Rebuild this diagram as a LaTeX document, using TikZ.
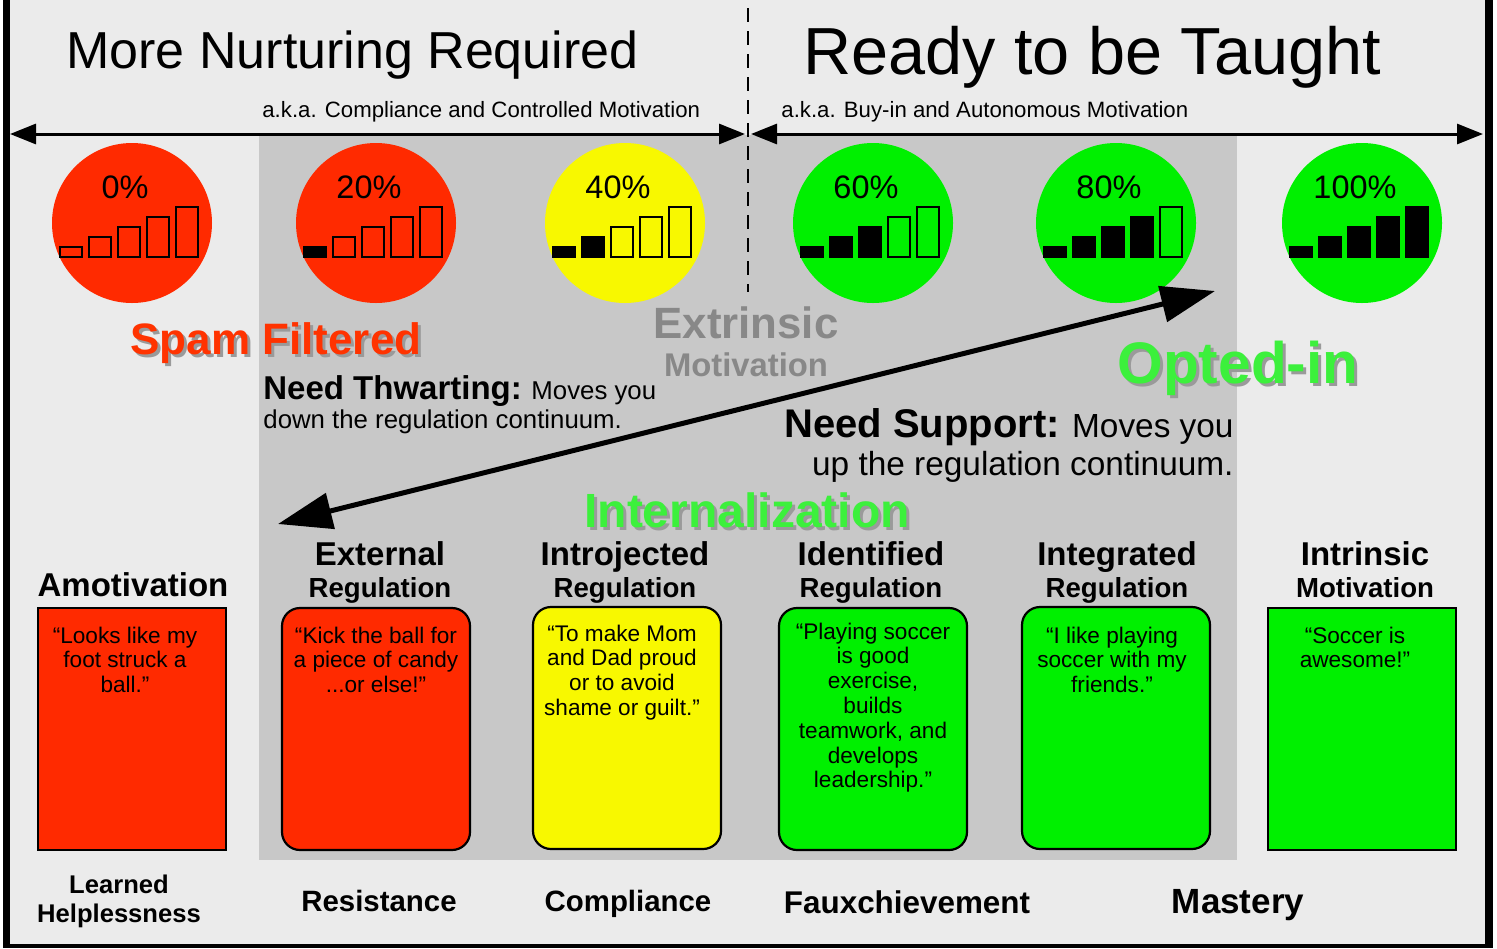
\documentclass[tikz,border=0pt]{standalone}
\usepackage{fontspec}
\setmainfont{Liberation Sans}
\usetikzlibrary{arrows.meta}

\definecolor{bglight}{HTML}{EBEBEB}
\definecolor{panel}{HTML}{C8C8C8}
\definecolor{lowred}{HTML}{FF2A00}
\definecolor{midyel}{HTML}{F8F800}
\definecolor{highgrn}{HTML}{00F000}
\definecolor{tagred}{HTML}{FF3300}
\definecolor{taggrn}{HTML}{3CF03C}
\definecolor{shade}{HTML}{9A9A9A}
\definecolor{extgray}{HTML}{888888}

\newcommand\shadowed[2]{\rlap{\hspace{1.5pt}\raisebox{-1.5pt}{\color{shade}#2}}{\color{#1}#2}}
\newcommand\subline{\fontsize{13.8}{16}\selectfont}

\begin{document}
\begin{tikzpicture}[x=0.5pt, y=-0.5pt,
    txt/.style={inner sep=0pt, anchor=base},
    meter/.style={circle, minimum size=80pt, inner sep=0pt},
    pct/.style={txt, font=\fontsize{16.25}{18}\selectfont},
    bar/.style={draw=black, line width=0.6pt},
    card/.style={draw, line width=1.1pt, minimum width=94pt, minimum height=121pt, inner sep=0pt},
    quote/.style={txt, align=center, font=\fontsize{11.3}{12.4}\selectfont},
    head/.style={txt, align=center, font=\bfseries\fontsize{16.5}{16}\selectfont},
    outcome/.style={txt, align=center, font=\bfseries\fontsize{14.7}{15}\selectfont},
    span/.style={line width=1.5pt, {Triangle[length=13pt,width=10pt]}-{Triangle[length=13pt,width=10pt]}},
    swing/.style={line width=2.5pt, {Triangle[length=27pt,width=18pt]}-{Triangle[length=27pt,width=18pt]}},
    divider/.style={line width=1.2pt, dash pattern=on 7pt off 4.5pt}]
\useasboundingbox (0,0) rectangle (1497,948);

% frame and panels
\fill[white] (0,0) rectangle (1497,948);
\fill[bglight] (10,0) rectangle (1485,944);
\fill[black] (3,0) rectangle (10,948);
\fill[black] (1485,0) rectangle (1493,948);
\fill[black] (3,944) rectangle (1493,948);
\fill[panel] (259,135) rectangle (1237,860);

\draw[divider] (748,8) -- (748,292);

% titles
\node[txt, anchor=base west, font=\fontsize{26}{30}\selectfont] (nurture) at (66,68) {More Nurturing Required};
\node[txt, anchor=base west, font=\fontsize{33.3}{36}\selectfont] (taught) at (803,74) {Ready to be Taught};
\node[txt, anchor=base west, font=\fontsize{11.1}{13}\selectfont] (akal) at (262,117) {a.k.a. Compliance and Controlled Motivation};
\node[txt, anchor=base west, font=\fontsize{11.1}{13}\selectfont] (akar) at (781,117) {a.k.a. Buy-in and Autonomous Motivation};

\coordinate (l1) at (10,134);
\coordinate (l2) at (745,134);
\coordinate (r1) at (751,134);
\coordinate (r2) at (1483,134);
\draw[span] (l1) -- (l2);
\draw[span] (r1) -- (r2);

% meters
\foreach \x/\p/\c/\n in {132/0/lowred/0, 376/20/lowred/1, 625/40/midyel/2,
                          873/60/highgrn/3, 1116/80/highgrn/4, 1362/100/highgrn/5} {
  \node[meter, fill=\c] (m\p) at (\x,223) {};
  \node[pct] (p\p) at (\x-7,198) {\p\%};
  \foreach \i in {0,...,4} {
    \ifnum\i<\n\relax \def\barfill{black}\else\def\barfill{\c}\fi
    \draw[bar, fill=\barfill] (\x-72+29*\i,257) rectangle (\x-50+29*\i,247-10*\i);
  }
}

% middle labels
\node[txt, font=\bfseries\fontsize{22}{24}\selectfont] (spam) at (276,354) {\shadowed{tagred}{Spam Filtered}};
\node[txt, text=extgray, font=\bfseries\fontsize{21.9}{24}\selectfont] (extr) at (746,338) {Extrinsic};
\node[txt, text=extgray, font=\bfseries\fontsize{16.4}{18}\selectfont] (extm) at (746,376) {Motivation};
\node[txt, font=\bfseries\fontsize{29.3}{32}\selectfont] (opted) at (1238,383) {\shadowed{taggrn}{Opted-in}};
\node[txt, anchor=base west, align=left, font=\fontsize{12.9}{14.5}\selectfont] (thwart) at (263,428)
  {{\bfseries\fontsize{16.5}{14.5}\selectfont Need Thwarting:} Moves you\\down the regulation continuum.};
\node[txt, anchor=base east, align=right, font=\fontsize{16.7}{19}\selectfont] (support) at (1234,475)
  {{\bfseries\fontsize{20}{19}\selectfont Need Support:} Moves you\\up the regulation continuum.};
\node[txt, font=\bfseries\fontsize{24}{26}\selectfont] (intern) at (747,527) {\shadowed{taggrn}{Internalization}};

\coordinate (lo) at (278,524);
\coordinate (hi) at (1215,291);
\draw[swing] (lo) -- (hi);

% regulation types
\node[head] (hamo) at (133,596) {Amotivation};
\node[head] (hext) at (380,597) {External\\\subline Regulation};
\node[head] (hint) at (625,597) {Introjected\\\subline Regulation};
\node[head] (hide) at (871,597) {Identified\\\subline Regulation};
\node[head] (hitg) at (1117,597) {Integrated\\\subline Regulation};
\node[head] (hins) at (1365,597) {Intrinsic\\\subline Motivation};

\node[card, fill=lowred] (camo) at (132,729) {};
\node[card, fill=lowred, rounded corners=9pt] (cext) at (376,729) {};
\node[card, fill=midyel, rounded corners=9pt] (cint) at (627,728) {};
\node[card, fill=highgrn, rounded corners=9pt] (cide) at (873,729) {};
\node[card, fill=highgrn, rounded corners=9pt] (citg) at (1116,728) {};
\node[card, fill=highgrn] (cins) at (1362,729) {};

\node[quote] (qamo) at (125,692.6) {“Looks like my\\foot struck a\\ball.”};
\node[quote] (qext) at (376,692.6) {“Kick the ball for\\a piece of candy\\...or else!”};
\node[quote] (qint) at (622,715.4) {“To make Mom\\and Dad proud\\or to avoid\\shame or guilt.”};
\node[quote] (qide) at (873,787.8) {“Playing soccer\\is good\\exercise,\\builds\\teamwork, and\\develops\\leadership.”};
\node[quote] (qitg) at (1112,692.6) {“I like playing\\soccer with my\\friends.”};
\node[quote] (qins) at (1355,667.8) {“Soccer is\\awesome!”};

% outcomes
\node[txt, align=center, font=\bfseries\fontsize{12.8}{14.5}\selectfont] (oamo) at (119,922) {Learned\\Helplessness};
\node[outcome] (oext) at (379,911) {Resistance};
\node[outcome] (oint) at (628,911) {Compliance};
\node[outcome, font=\bfseries\fontsize{15.7}{16}\selectfont] (oide) at (907,913) {Fauxchievement};
\node[outcome, font=\bfseries\fontsize{17.5}{18}\selectfont] (oins) at (1238,913) {Mastery};
\end{tikzpicture}
\end{document}
